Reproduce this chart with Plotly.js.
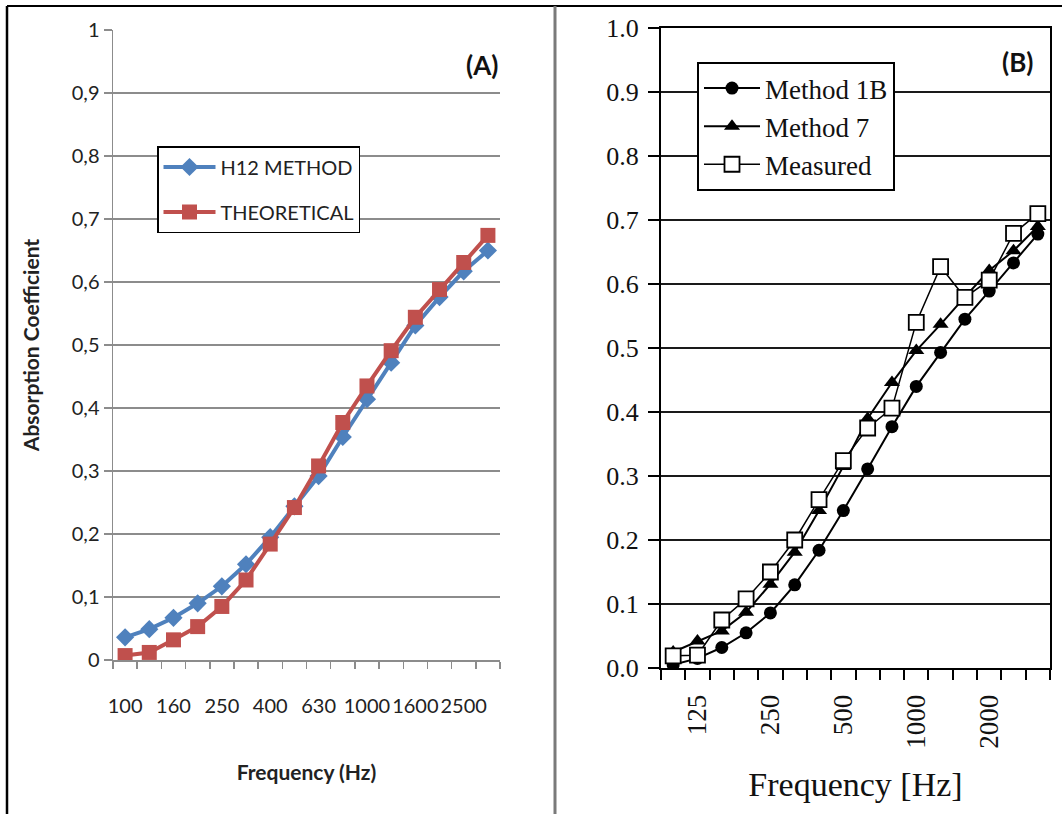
<!DOCTYPE html>
<html>
<head>
<meta charset="utf-8">
<script src="https://cdn.plot.ly/plotly-3.0.1.min.js"></script>
<style>html,body{margin:0;padding:0;background:#fff;}#chart{width:1062px;height:814px;}</style>
</head>
<body>
<div id="chart"></div>
<script>
// ---- data ----
const frequencies = ['100','125','160','200','250','315','400','500','630','800','1000','1250','1600','2000','2500','3150'];
const leftTickLabels = ['100','160','250','400','630','1000','1600','2500'];
const rightTickLabels = ['125','250','500','1000','2000'];
const leftYTickValues = [0,0.1,0.2,0.3,0.4,0.5,0.6,0.7,0.8,0.9,1];
const leftYTickText = ['0','0,1','0,2','0,3','0,4','0,5','0,6','0,7','0,8','0,9','1'];
const rightYTickValues = [0,0.1,0.2,0.3,0.4,0.5,0.6,0.7,0.8,0.9,1];
const rightYTickText = ['0.0','0.1','0.2','0.3','0.4','0.5','0.6','0.7','0.8','0.9','1.0'];

const h12Method   = [0.036,0.049,0.067,0.090,0.117,0.152,0.195,0.244,0.292,0.354,0.414,0.472,0.531,0.576,0.617,0.650];
const theoretical = [0.007,0.012,0.032,0.053,0.085,0.127,0.184,0.242,0.308,0.377,0.435,0.491,0.544,0.588,0.631,0.674];

const method1B = [0.005,0.015,0.032,0.055,0.086,0.130,0.184,0.246,0.311,0.377,0.440,0.493,0.545,0.589,0.633,0.678];
const method7  = [0.025,0.042,0.058,0.087,0.131,0.181,0.246,0.315,0.390,0.446,0.496,0.537,0.580,0.621,0.652,0.690];
const measured = [0.019,0.020,0.075,0.108,0.150,0.200,0.263,0.324,0.375,0.406,0.540,0.627,0.579,0.606,0.679,0.710];

// ---- helpers ----
const W = 1062, H = 814;
const px = x => x / W;
const py = y => 1 - y / H;
const idx = frequencies.map((f, i) => i);
const posOf = labels => labels.map(l => frequencies.indexOf(l));

const sans = 'Lato, "Open Sans", sans-serif';
const serif = '"Liberation Serif", "DejaVu Serif", serif';
const gray = '#8c8c8c';

const traces = [
  {x: idx, y: h12Method, name: 'H12 METHOD', type: 'scatter', mode: 'lines+markers',
   xaxis: 'x', yaxis: 'y', legend: 'legend', legendgroup: 'a',
   line: {color: '#4F81BD', width: 4}, marker: {symbol: 'diamond', size: 14, color: '#4F81BD'}},
  {x: idx, y: theoretical, name: 'THEORETICAL', type: 'scatter', mode: 'lines+markers',
   xaxis: 'x', yaxis: 'y', legend: 'legend', legendgroup: 'b',
   line: {color: '#C0504D', width: 4}, marker: {symbol: 'square', size: 15, color: '#C0504D'}},
  {x: idx, y: method1B, name: 'Method 1B', type: 'scatter', mode: 'lines+markers',
   xaxis: 'x2', yaxis: 'y2', legend: 'legend2',
   line: {color: '#000', width: 2}, marker: {symbol: 'circle', size: 13, color: '#000'}},
  {x: idx, y: method7, name: 'Method 7', type: 'scatter', mode: 'lines+markers',
   xaxis: 'x2', yaxis: 'y2', legend: 'legend2',
   line: {color: '#000', width: 2}, marker: {symbol: 'triangle-up', size: 14, color: '#000'}},
  {x: idx, y: measured, name: 'Measured', type: 'scatter', mode: 'lines+markers',
   xaxis: 'x2', yaxis: 'y2', legend: 'legend2',
   line: {color: '#000', width: 1.5}, marker: {symbol: 'square', size: 15, color: '#fff', line: {color: '#000', width: 1.8}}}
];

const layout = {
  width: W, height: H,
  margin: {l: 0, r: 0, t: 0, b: 0},
  paper_bgcolor: '#fff', plot_bgcolor: '#fff',
  showlegend: true,
  xaxis: {
    domain: [px(113), px(500)], anchor: 'y', range: [-0.5, 15.5],
    showline: true, linecolor: gray, linewidth: 1.5, showgrid: false, zeroline: false,
    tickmode: 'array', tickvals: posOf(leftTickLabels), ticktext: leftTickLabels, ticks: '',
    tickangle: 0, ticklabelstandoff: 27,
    tickfont: {family: sans, size: 20, color: '#222'},
    minor: {tickmode: 'linear', tick0: -0.5, dtick: 1, ticks: 'outside', ticklen: 7, tickwidth: 1.5, tickcolor: gray, showgrid: false},
    title: {text: 'Frequency (Hz)', font: {family: sans, size: 21, color: '#222', weight: 'bold'}, standoff: 50}
  },
  yaxis: {
    domain: [py(660), py(30)], anchor: 'x', range: [0, 1],
    showline: true, linecolor: gray, linewidth: 1.5, zeroline: false,
    showgrid: true, gridcolor: gray, gridwidth: 1.4,
    tickmode: 'array', tickvals: leftYTickValues, ticktext: leftYTickText,
    ticks: 'outside', ticklen: 8, tickwidth: 1.5, tickcolor: gray,
    tickfont: {family: sans, size: 20, color: '#222'},
    title: {text: 'Absorption Coefficient', font: {family: sans, size: 21, color: '#222', weight: 'bold'}, standoff: 26}
  },
  xaxis2: {
    domain: [px(661), px(1050)], anchor: 'y2', range: [-0.5, 15.5],
    showline: true, mirror: true, linecolor: '#000', linewidth: 2, showgrid: false, zeroline: false,
    tickmode: 'array', tickvals: posOf(rightTickLabels), ticktext: rightTickLabels, ticks: '',
    tickangle: -90, ticklabelstandoff: 14,
    tickfont: {family: serif, size: 27, color: '#111'},
    minor: {tickmode: 'linear', tick0: -0.5, dtick: 1, ticks: 'outside', ticklen: 10, tickwidth: 2, tickcolor: '#000', showgrid: false},
    title: {text: 'Frequency [Hz]', font: {family: serif, size: 34, color: '#111'}, standoff: 24}
  },
  yaxis2: {
    domain: [py(668), py(28)], anchor: 'x2', range: [0, 1],
    showline: true, mirror: true, linecolor: '#000', linewidth: 2, zeroline: false,
    showgrid: true, gridcolor: '#1a1a1a', gridwidth: 2,
    tickmode: 'array', tickvals: rightYTickValues, ticktext: rightYTickText,
    ticks: 'outside', ticklen: 11, tickwidth: 2, tickcolor: '#000',
    ticklabelstandoff: 4,
    tickfont: {family: serif, size: 26, color: '#111'}
  },
  legend: {
    x: px(157), y: py(146), xanchor: 'left', yanchor: 'top',
    bgcolor: '#fff', bordercolor: '#000', borderwidth: 1.5,
    font: {family: sans, size: 20, color: '#222'},
    itemwidth: 52,
    traceorder: 'grouped', tracegroupgap: 16
  },
  legend2: {
    x: px(697), y: py(62), xanchor: 'left', yanchor: 'top',
    bgcolor: '#fff', bordercolor: '#000', borderwidth: 2,
    font: {family: serif, size: 27, color: '#111'},
    itemwidth: 56,
    traceorder: 'normal'
  },
  annotations: [
    {xref: 'paper', yref: 'paper', x: px(482), y: py(65), xanchor: 'center', yanchor: 'middle',
     text: '<b>(A)</b>', showarrow: false, font: {family: sans, size: 26, color: '#111'}},
    {xref: 'paper', yref: 'paper', x: px(1017), y: py(62), xanchor: 'center', yanchor: 'middle',
     text: '<b>(B)</b>', showarrow: false, font: {family: sans, size: 26, color: '#111'}}
  ],
  shapes: [
    {type: 'line', xref: 'paper', yref: 'paper', x0: px(7), x1: 1, y0: py(6), y1: py(6), line: {color: '#000', width: 2}},
    {type: 'line', xref: 'paper', yref: 'paper', x0: px(7), x1: px(7), y0: py(6), y1: 0, line: {color: '#000', width: 2.5}},
    {type: 'line', xref: 'paper', yref: 'paper', x0: px(555), x1: px(555), y0: py(6), y1: 0, line: {color: '#7a7a7a', width: 3}}
  ]
};

Plotly.newPlot('chart', traces, layout, {staticPlot: true, displayModeBar: false});
</script>
</body>
</html>
